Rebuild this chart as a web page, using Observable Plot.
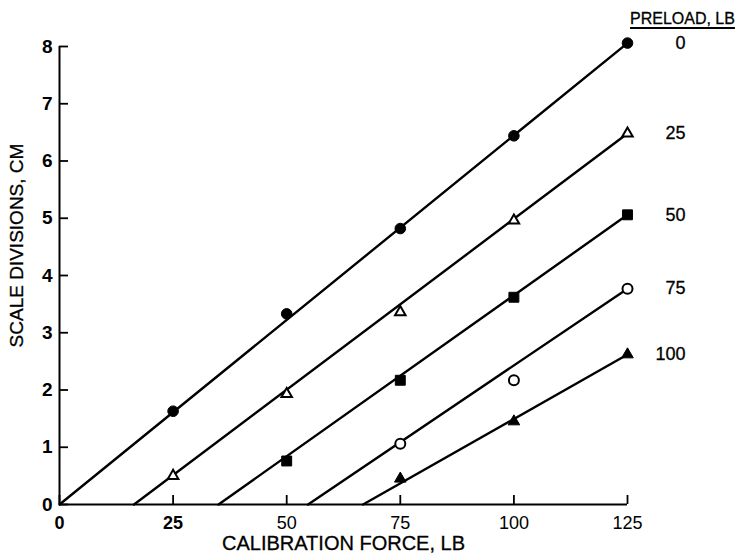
<!DOCTYPE html>
<html>
<head>
<meta charset="utf-8">
<script src="https://cdn.jsdelivr.net/npm/d3@7"></script>
<script src="https://cdn.jsdelivr.net/npm/@observablehq/plot@0.6"></script>
<style>
  html, body { margin: 0; padding: 0; background: #fff; }
  #wrap { position: relative; width: 735px; height: 556px; }
  #legend-title {
    position: absolute; left: 630px; top: 10px;
    font: 16px "Liberation Sans", Arial, sans-serif;
    white-space: nowrap;
    -webkit-text-stroke: 0.3px #000;
    text-decoration: underline; text-decoration-thickness: 2px; text-underline-offset: 3px;
    color: #000;
  }
</style>
</head>
<body>
<div id="wrap">
  <div id="legend-title">PRELOAD, LB</div>
</div>
<script>
// Calibration force at which readings were taken (lb)
const forceLb = [25, 50, 75, 100, 125];
// Preload levels (lb) and their readings (scale divisions, cm); null = no reading
const preloads = [0, 25, 50, 75, 100];
const preload0   = [1.63, 3.33, 4.82, 6.44, 8.06];
const preload25  = [0.50, 1.93, 3.36, 4.96, 6.48];
const preload50  = [null, 0.76, 2.17, 3.62, 5.06];
const preload75  = [null, null, 1.06, 2.17, 3.77];
const preload100 = [null, null, 0.45, 1.45, 2.62];
// Fitted calibration lines: zero-reading intercept (lb) and reading at 125 lb
const fitIntercept = [0, 16.4, 35.0, 54.7, 66.8];
const fitAt125     = [8.06, 6.48, 5.06, 3.77, 2.62];
// Axis ticks
const xTicks = [0, 25, 50, 75, 100, 125];
const yTicks = [0, 1, 2, 3, 4, 5, 6, 7, 8];

const series = [preload0, preload25, preload50, preload75, preload100];
// Marker style per preload: symbol, fill and size
const symbols = ["circle", "triangle", "square", "circle", "triangle"];
const fills   = ["black", "white", "black", "white", "black"];
const radii   = [5.3, 3.9, 5.6, 5, 4.3];

const points = series.map((vals, s) =>
  forceLb.map((x, i) => ({x, y: vals[i], preload: preloads[s]})).filter(d => d.y != null)
);
const fitLines = preloads.map((p, s) => [
  {x: fitIntercept[s], y: 0, preload: p},
  {x: 125, y: fitAt125[s], preload: p}
]);
const lastPoints = points.map(pts => pts[pts.length - 1]);

const font = '"Liberation Sans", Arial, sans-serif';
// slightly heavier regular text, like the printed original
const heavy = {fill: "black", stroke: "black", strokeWidth: 0.3};

const chart = Plot.plot({
  width: 735,
  height: 556,
  marginLeft: 59,
  marginRight: 108,
  marginTop: 46,
  marginBottom: 52,
  style: {fontFamily: font, fontSize: "18px", color: "black", background: "white"},
  x: {domain: [0, 125]},
  y: {domain: [0, 8]},
  marks: [
    // axis lines
    Plot.ruleX([0], {y1: 0, y2: 8, stroke: "black", strokeWidth: 2}),
    Plot.ruleY([0], {x1: 0, x2: 125, stroke: "black", strokeWidth: 2}),
    // inward ticks and tick labels
    Plot.axisY({ticks: yTicks, tickSize: -9, tickPadding: 16, label: null, fontWeight: "bold", fontSize: 19, strokeWidth: 1.8}),
    Plot.axisX({ticks: xTicks.slice(0, 2), tickSize: -9, tickPadding: 21, label: null, fontWeight: "bold", fontSize: 18, strokeWidth: 1.8}),
    Plot.axisX({ticks: xTicks.slice(2), tickSize: -9, tickPadding: 21, label: null, fontSize: 18, strokeWidth: 1.8}),
    // fitted lines
    ...fitLines.map(line => Plot.line(line, {x: "x", y: "y", stroke: "black", strokeWidth: 2.4})),
    // measured readings
    ...points.map((pts, s) => Plot.dot(pts, {
      x: "x", y: "y", symbol: symbols[s], r: radii[s],
      fill: fills[s], stroke: "black", strokeWidth: fills[s] === "white" ? 2 : 1
    })),
    // preload labels at the end of each line
    Plot.text(lastPoints, {x: "x", y: "y", text: d => String(d.preload), dx: 58, textAnchor: "end", fontSize: 18, ...heavy}),
    // axis titles
    Plot.text(["SCALE DIVISIONS, CM"], {frameAnchor: "left", textAnchor: "middle", lineAnchor: "middle",
      rotate: -90, dx: -43, dy: -30, fontSize: 19, ...heavy}),
    Plot.text(["CALIBRATION FORCE, LB"], {frameAnchor: "bottom", textAnchor: "middle", lineAnchor: "middle",
      dy: 39, fontSize: 20, ...heavy})
  ]
});

document.getElementById("wrap").prepend(chart);
</script>
</body>
</html>
